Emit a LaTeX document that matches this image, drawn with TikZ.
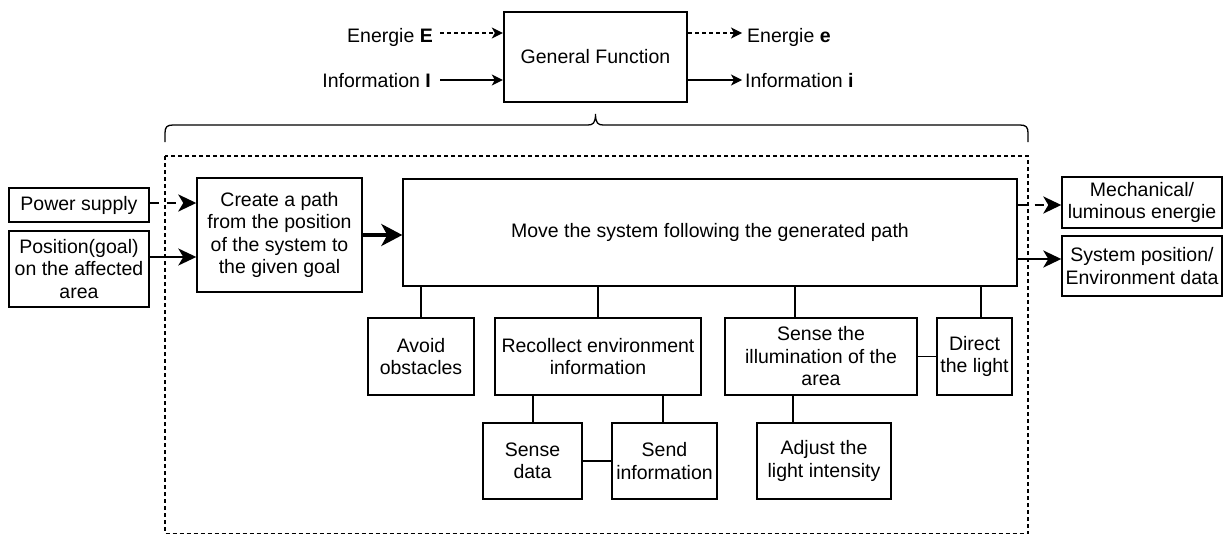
\documentclass[tikz,border=0pt]{standalone}
\usepackage{fontspec}
\setmainfont{Liberation Sans}
\usetikzlibrary{arrows.meta}
\begin{document}
\begin{tikzpicture}[x=1pt,y=-1pt,
  fbox/.style={draw, line width=1.4pt, align=center, inner sep=0pt,
    font=\fontsize{19.5}{22.5}\selectfont},
  mainbox/.style={draw, line width=2.4pt, align=center, inner sep=0pt,
    font=\fontsize{19.5}{22.5}\selectfont},
  lbl/.style={inner sep=0pt, font=\fontsize{19.5}{22.5}\selectfont},
  link/.style={line width=1.4pt},
  thin/.style={line width=1.3pt, -{Stealth[length=11pt,width=11pt,inset=3pt]}},
  mid/.style={line width=1.8pt, -{Stealth[length=18pt,width=17pt,inset=5pt]}},
  thick/.style={line width=2.6pt, -{Stealth[length=18pt,width=17pt,inset=5pt]}},
  heavy/.style={line width=3.4pt, -{Stealth[length=21pt,width=22pt,inset=6pt]}},
  dshort/.style={dash pattern=on 4pt off 3pt},
  dlong/.style={dash pattern=on 9pt off 8pt}]
\useasboundingbox (0,0) rectangle (1223,535);

% general function with its flows
\node[mainbox, minimum width=183pt, minimum height=90pt] (gf) at (595.5,57) {General Function};
\node[lbl, anchor=east] (eE) at (433,37) {Energie \textbf{E}};
\node[lbl, anchor=east] (iI) at (431,81) {Information \textbf{I}};
\node[lbl, anchor=west] (ee) at (747,37) {Energie \textbf{e}};
\node[lbl, anchor=west] (ii) at (745,81) {Information \textbf{i}};
\coordinate (eEin) at (440,33);
\coordinate (iIin) at (440,80);
\coordinate (eEout) at (742,33);
\coordinate (iIout) at (742,80);
\draw[thin, dshort] (eEin) -- (eEin -| gf.west);
\draw[thin] (iIin) -- (iIin -| gf.west);
\draw[thin, dshort] (eEout -| gf.east) -- (eEout);
\draw[thin] (iIout -| gf.east) -- (iIout);

% curly brace under the general function
\coordinate (brL) at (165,142);
\coordinate (brR) at (1028,142);
\coordinate (brT) at (gf.south |- 0,114);
\draw[line width=1.3pt] (brL) -- (165,133) .. controls (165,127) and (167,125) .. (173,125)
  -- (588,125) .. controls (593,125) and (595.5,123) .. (brT)
  .. controls (595.5,123) and (598,125) .. (603,125)
  -- (1020,125) .. controls (1026,125) and (1028,127) .. (1028,133) -- (brR);

% system boundary
\draw[line width=1.3pt, dshort] (165,156) rectangle (1028,533.5);

% inputs and outputs
\node[fbox, minimum width=140pt, minimum height=34pt] (power) at (79,205) {Power supply};
\node[fbox, minimum width=140pt, minimum height=76pt] (pos) at (79,269) {Position(goal)\\on the affected\\area};
\node[fbox, minimum width=160pt, minimum height=51pt] (mech) at (1142,202.5) {Mechanical/\\luminous energie};
\node[fbox, minimum width=160pt, minimum height=60pt] (sysp) at (1142,266) {System position/\\Environment data};

% main functions
\node[fbox, minimum width=165pt, minimum height=114pt] (create) at (279.5,235) {Create a path\\from the position\\of the system to\\the given goal};
\node[fbox, minimum width=614pt, minimum height=107pt] (move) at (710,232.5) {Move the system following the generated path};

% sub functions
\node[fbox, minimum width=106pt, minimum height=77pt] (avoid) at (421,356.5) {Avoid\\obstacles};
\node[fbox, minimum width=206pt, minimum height=77pt] (recol) at (598,356.5) {Recollect environment\\information};
\node[fbox, minimum width=192pt, minimum height=77pt] (illum) at (821,356.5) {Sense the\\illumination of the\\area};
\node[fbox, minimum width=75pt, minimum height=77pt] (direct) at (974.5,356.5) {Direct\\the light};
\node[fbox, minimum width=99pt, minimum height=76pt] (sdata) at (532.5,461) {Sense\\data};
\node[fbox, minimum width=105pt, minimum height=76pt] (send) at (664.5,461) {Send\\information};
\node[fbox, minimum width=134pt, minimum height=76pt] (adjust) at (824,461) {Adjust the\\light intensity};

% flows
\draw[thick, dlong] ([yshift=2pt]power.east) -- ([yshift=2pt]power.east -| create.west);
\draw[mid] ([yshift=12pt]pos.east) -- ([yshift=12pt]pos.east -| create.west);
\draw[heavy] (create.east) -- (create.east -| move.west);
\draw[thick, dlong] ([yshift=-2.5pt]mech.west -| move.east) -- ([yshift=-2.5pt]mech.west);
\draw[thick] ([yshift=7pt]sysp.west -| move.east) -- ([yshift=7pt]sysp.west);

% decomposition links
\draw[link] (avoid.north) -- (avoid.north |- move.south);
\draw[link] (recol.north) -- (recol.north |- move.south);
\draw[link] ([xshift=-26pt]illum.north) -- ([xshift=-26pt]illum.north |- move.south);
\draw[link] ([xshift=6.5pt]direct.north) -- ([xshift=6.5pt]direct.north |- move.south);
\draw[link] (illum.east) -- (direct.west);
\draw[link] ([xshift=0.5pt]sdata.north) -- ([xshift=0.5pt]sdata.north |- recol.south);
\draw[link] ([xshift=-1.5pt]send.north) -- ([xshift=-1.5pt]send.north |- recol.south);
\draw[link] (sdata.east) -- (send.west);
\draw[link] ([xshift=-31pt]adjust.north) -- ([xshift=-31pt]adjust.north |- illum.south);
\end{tikzpicture}
\end{document}
